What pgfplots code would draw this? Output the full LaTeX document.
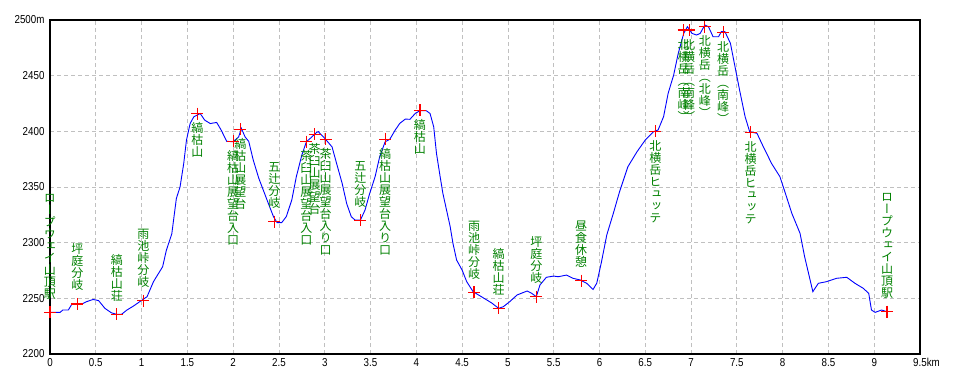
\documentclass[border=0pt]{standalone}
\usepackage{fontspec}
\usepackage{pgfplots}
\pgfplotsset{compat=1.18}
\setmainfont{Liberation Sans}
\newfontfamily\tickfont[FakeStretch=0.85]{Liberation Sans}
\newfontfamily\jp[RawFeature=+vert]{Noto Sans CJK JP}
\definecolor{labgreen}{RGB}{0,128,0}
\definecolor{gridgray}{RGB}{192,192,192}
\def\vtloop#1{\ifx#1\relax\else\hbox to 12pt{\hss#1\hss}\expandafter\vtloop\fi}
\newcommand\vt[1]{\vbox{\baselineskip=12pt\lineskiplimit=-20pt\lineskip=0pt\vtloop#1\relax}}
\newcommand\vtmeta{\edef\tmp{\pgfplotspointmeta}\expandafter\vt\expandafter{\tmp}}
\begin{document}
\begin{tikzpicture}
\path[use as bounding box] (-50pt,-30pt) rectangle (910pt,354pt);
\begin{axis}[at={(0,0)}, anchor=south west, scale only axis,
  width=870pt, height=334pt,
  xmin=0, xmax=9.5, ymin=2200, ymax=2500,
  xtick={0,0.5,1,1.5,2,2.5,3,3.5,4,4.5,5,5.5,6,6.5,7,7.5,8,8.5,9,9.5},
  xticklabels={0,0.5,1,1.5,2,2.5,3,3.5,4,4.5,5,5.5,6,6.5,7,7.5,8,8.5,9,9.5\rlap{km}},
  ytick={2200,2250,2300,2350,2400,2450,2500},
  yticklabels={2200,2250,2300,2350,2400,2450,2500m},
  grid=major, grid style={gridgray, line width=0.8pt, dash pattern=on 4pt off 3pt},
  major tick length=0pt,
  axis line style={line width=1.3pt},
  tick label style={font=\tickfont\fontsize{11.5}{12}\selectfont},
  xticklabel style={yshift=-1pt},
  yticklabel style={xshift=-2pt},
  clip=false]
\addplot[blue, line width=0.9pt] coordinates {
(0,2237.4) (0.11,2237.4) (0.14,2239.5) (0.2,2239.5) (0.24,2245) (0.35,2245) (0.4,2247) (0.47,2249) (0.53,2248) (0.6,2241) (0.67,2237) (0.73,2235.6) (0.78,2235.6) (0.84,2239.5) (0.91,2243) (0.98,2247) (1.06,2251.5) (1.13,2265) (1.23,2278.4) (1.27,2293) (1.33,2308) (1.38,2339.8) (1.42,2350) (1.46,2371) (1.49,2392) (1.53,2407) (1.57,2413) (1.64,2416) (1.69,2410) (1.75,2407) (1.82,2408) (1.87,2401) (1.93,2391) (2.0,2390.7) (2.06,2395) (2.09,2402.7) (2.13,2395) (2.17,2391) (2.22,2374) (2.28,2357.8) (2.33,2347) (2.39,2334) (2.44,2323.4) (2.48,2318) (2.53,2318) (2.58,2323.4) (2.64,2338.3) (2.69,2359.3) (2.75,2378.7) (2.80,2390.7) (2.86,2395) (2.91,2399) (2.93,2399.7) (3.0,2393.7) (3.08,2386) (3.13,2371) (3.19,2353.3) (3.24,2335) (3.29,2323.3) (3.33,2320.4) (3.39,2320.4) (3.44,2329.3) (3.49,2344) (3.55,2359.3) (3.60,2377.2) (3.66,2390.7) (3.71,2392.8) (3.77,2401.2) (3.82,2407.2) (3.88,2411) (3.93,2410.8) (3.99,2416.2) (4.04,2418.5) (4.11,2418.5) (4.15,2416) (4.19,2404) (4.22,2380.3) (4.26,2359.3) (4.29,2344.3) (4.33,2329.3) (4.37,2314.3) (4.40,2299.4) (4.44,2284.4) (4.50,2275.4) (4.55,2265) (4.62,2256) (4.71,2251.5) (4.82,2246) (4.90,2241) (4.95,2242.5) (5.02,2247) (5.10,2253) (5.21,2256.6) (5.26,2254.5) (5.31,2251.5) (5.35,2262) (5.42,2268.9) (5.50,2270) (5.55,2269.4) (5.64,2270.9) (5.71,2268) (5.79,2266.5) (5.86,2263.5) (5.93,2258) (5.97,2263.5) (6.02,2282) (6.08,2307) (6.15,2326) (6.22,2346) (6.31,2368.2) (6.41,2381.7) (6.50,2392.2) (6.59,2399.7) (6.64,2401.2) (6.70,2413.2) (6.75,2434.2) (6.81,2450.6) (6.86,2470) (6.92,2488) (6.96,2494) (7.01,2488) (7.06,2486.5) (7.10,2488) (7.15,2495.5) (7.19,2494) (7.24,2485) (7.30,2485) (7.33,2489.5) (7.37,2489.5) (7.43,2479) (7.48,2458) (7.53,2437) (7.59,2413.2) (7.64,2399.7) (7.72,2398.2) (7.79,2386) (7.88,2371) (7.97,2359.3) (8.03,2344.3) (8.10,2326.4) (8.19,2308.4) (8.24,2287.4) (8.30,2266.5) (8.33,2256) (8.39,2263.5) (8.48,2265) (8.59,2268) (8.70,2268.9) (8.79,2263.5) (8.88,2259) (8.94,2254.5) (8.97,2239.5) (9.01,2237.4) (9.08,2239.5) (9.14,2238)
};
% labels above the points
\addplot[draw=none, mark=none, only marks,
  point meta=explicit symbolic, nodes near coords={\vtmeta},
  nodes near coords style={anchor=south, yshift=13pt, inner sep=0pt, text=labgreen, font=\jp\fontsize{12}{12}\selectfont}]
coordinates {
(0,2237.4)[ロープウェイ山頂駅]
(0.3,2245)[坪庭分岐]
(0.73,2235.6)[縞枯山荘]
(1.02,2248)[雨池峠分岐]
(2.45,2319)[五辻分岐]
(3.39,2320)[五辻分岐]
(4.63,2255.5)[雨池峠分岐]
(4.90,2241)[縞枯山荘]
(5.31,2251.5)[坪庭分岐]
(5.80,2266)[昼食休憩]
(9.14,2238)[ロープウェイ山頂駅]
};
% labels below the points
\addplot[draw=none, mark=none, only marks,
  point meta=explicit symbolic, nodes near coords={\vtmeta},
  nodes near coords style={anchor=north, yshift=-9pt, inner sep=0pt, text=labgreen, font=\jp\fontsize{12}{12}\selectfont}]
coordinates {
(1.61,2416)[縞枯山]
(2.0,2391)[縞枯山展望台入口]
(2.08,2402)[縞枯山展望台]
(2.80,2390.7)[茶臼山展望台入口]
(2.89,2397.5)[茶臼山展望台]
(3.01,2393)[茶臼山展望台入り口]
(3.66,2393)[縞枯山展望台入り口]
(4.04,2419)[縞枯山]
(6.61,2400)[北横岳ヒュッテ]
(6.92,2491)[北横岳（南峰）]
(6.98,2491)[北横岳（南峰）]
(7.15,2494)[北横岳（北峰）]
(7.35,2489)[北横岳（南峰）]
(7.65,2399)[北横岳ヒュッテ]
};
% waypoint marks
\addplot[red, only marks, mark=+, mark size=6pt, mark options={red, line width=1.2pt}]
coordinates {
(0,2237.4) (0.3,2245) (0.73,2235.6) (1.02,2248) (1.61,2416) (2.0,2391) (2.08,2402)
(2.45,2319) (2.80,2390.7) (2.89,2397.5) (3.01,2393) (3.39,2320) (3.66,2393) (4.04,2419)
(4.63,2255.5) (4.90,2241) (5.31,2251.5) (5.80,2266) (6.61,2400) (6.92,2491) (6.98,2491)
(7.15,2494) (7.35,2489) (7.65,2399) (9.14,2238)
};
\end{axis}
\end{tikzpicture}
\end{document}
